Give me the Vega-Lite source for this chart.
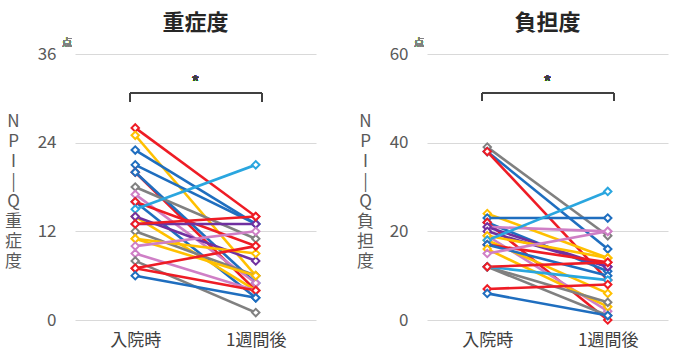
{
  "$schema": "https://vega.github.io/schema/vega-lite/v6.json",
  "background": "white",
  "padding": {"left": 4, "top": 12, "right": 5, "bottom": 5},
  "config": {
    "font": "Noto Sans CJK JP",
    "view": {"stroke": null},
    "concat": {"spacing": 40}
  },
  "datasets": {
    "sev": [
      {"id": "s1", "g": "r", "t": 0, "v": 26}, {"id": "s1", "g": "r", "t": 1, "v": 14},
      {"id": "s2", "g": "y", "t": 0, "v": 25}, {"id": "s2", "g": "y", "t": 1, "v": 6},
      {"id": "s3", "g": "b", "t": 0, "v": 23}, {"id": "s3", "g": "b", "t": 1, "v": 13},
      {"id": "s4", "g": "b", "t": 0, "v": 21}, {"id": "s4", "g": "b", "t": 1, "v": 13},
      {"id": "s5", "g": "r", "t": 0, "v": 20}, {"id": "s5", "g": "r", "t": 1, "v": 4},
      {"id": "s6", "g": "b", "t": 0, "v": 20}, {"id": "s6", "g": "b", "t": 1, "v": 5},
      {"id": "s7", "g": "gr", "t": 0, "v": 18}, {"id": "s7", "g": "gr", "t": 1, "v": 11},
      {"id": "s8", "g": "pk", "t": 0, "v": 17}, {"id": "s8", "g": "pk", "t": 1, "v": 5},
      {"id": "s9", "g": "b", "t": 0, "v": 16}, {"id": "s9", "g": "b", "t": 1, "v": 3},
      {"id": "s23", "g": "r", "t": 0, "v": 16}, {"id": "s23", "g": "r", "t": 1, "v": 10},
      {"id": "s10", "g": "lb", "t": 0, "v": 15}, {"id": "s10", "g": "lb", "t": 1, "v": 21},
      {"id": "s11", "g": "y", "t": 0, "v": 14}, {"id": "s11", "g": "y", "t": 1, "v": 4},
      {"id": "s12", "g": "pu", "t": 0, "v": 14}, {"id": "s12", "g": "pu", "t": 1, "v": 8},
      {"id": "s13", "g": "pu", "t": 0, "v": 13}, {"id": "s13", "g": "pu", "t": 1, "v": 13},
      {"id": "s14", "g": "gr", "t": 0, "v": 12}, {"id": "s14", "g": "gr", "t": 1, "v": 6},
      {"id": "s15", "g": "y", "t": 0, "v": 11}, {"id": "s15", "g": "y", "t": 1, "v": 9},
      {"id": "s22", "g": "y", "t": 0, "v": 11}, {"id": "s22", "g": "y", "t": 1, "v": 6},
      {"id": "s16", "g": "pk", "t": 0, "v": 10}, {"id": "s16", "g": "pk", "t": 1, "v": 12},
      {"id": "s17", "g": "pk", "t": 0, "v": 9}, {"id": "s17", "g": "pk", "t": 1, "v": 4},
      {"id": "s18", "g": "gr", "t": 0, "v": 8}, {"id": "s18", "g": "gr", "t": 1, "v": 1},
      {"id": "s19", "g": "r", "t": 0, "v": 7}, {"id": "s19", "g": "r", "t": 1, "v": 10},
      {"id": "s20", "g": "r", "t": 0, "v": 7}, {"id": "s20", "g": "r", "t": 1, "v": 4},
      {"id": "s24", "g": "r", "t": 0, "v": 13}, {"id": "s24", "g": "r", "t": 1, "v": 14},
      {"id": "s21", "g": "b", "t": 0, "v": 6}, {"id": "s21", "g": "b", "t": 1, "v": 3}
    ],
    "bur": [
      {"id": "b1", "g": "gr", "t": 0, "v": 39}, {"id": "b1", "g": "gr", "t": 1, "v": 19},
      {"id": "b2", "g": "b", "t": 0, "v": 38}, {"id": "b2", "g": "b", "t": 1, "v": 16},
      {"id": "b3", "g": "r", "t": 0, "v": 38}, {"id": "b3", "g": "r", "t": 1, "v": 9},
      {"id": "b4", "g": "y", "t": 0, "v": 24}, {"id": "b4", "g": "y", "t": 1, "v": 14},
      {"id": "b5", "g": "b", "t": 0, "v": 23}, {"id": "b5", "g": "b", "t": 1, "v": 23},
      {"id": "b6", "g": "b", "t": 0, "v": 22}, {"id": "b6", "g": "b", "t": 1, "v": 11},
      {"id": "b9", "g": "r", "t": 0, "v": 22}, {"id": "b9", "g": "r", "t": 1, "v": 0},
      {"id": "b7", "g": "pk", "t": 0, "v": 21}, {"id": "b7", "g": "pk", "t": 1, "v": 20},
      {"id": "b24", "g": "pu", "t": 0, "v": 21}, {"id": "b24", "g": "pu", "t": 1, "v": 12},
      {"id": "b8", "g": "pu", "t": 0, "v": 20}, {"id": "b8", "g": "pu", "t": 1, "v": 12},
      {"id": "b10", "g": "pk", "t": 0, "v": 19}, {"id": "b10", "g": "pk", "t": 1, "v": 2},
      {"id": "b23", "g": "y", "t": 0, "v": 19}, {"id": "b23", "g": "y", "t": 1, "v": 14},
      {"id": "b11", "g": "y", "t": 0, "v": 18}, {"id": "b11", "g": "y", "t": 1, "v": 6},
      {"id": "b12", "g": "lb", "t": 0, "v": 18}, {"id": "b12", "g": "lb", "t": 1, "v": 29},
      {"id": "b13", "g": "r", "t": 0, "v": 17}, {"id": "b13", "g": "r", "t": 1, "v": 13},
      {"id": "b16", "g": "b", "t": 0, "v": 17}, {"id": "b16", "g": "b", "t": 1, "v": 10},
      {"id": "b14", "g": "y", "t": 0, "v": 16}, {"id": "b14", "g": "y", "t": 1, "v": 3},
      {"id": "b15", "g": "pk", "t": 0, "v": 15}, {"id": "b15", "g": "pk", "t": 1, "v": 20},
      {"id": "b17", "g": "gr", "t": 0, "v": 12}, {"id": "b17", "g": "gr", "t": 1, "v": 1},
      {"id": "b18", "g": "gr", "t": 0, "v": 12}, {"id": "b18", "g": "gr", "t": 1, "v": 4},
      {"id": "b19", "g": "lb", "t": 0, "v": 12}, {"id": "b19", "g": "lb", "t": 1, "v": 9},
      {"id": "b20", "g": "r", "t": 0, "v": 12}, {"id": "b20", "g": "r", "t": 1, "v": 13},
      {"id": "b21", "g": "r", "t": 0, "v": 7}, {"id": "b21", "g": "r", "t": 1, "v": 8},
      {"id": "b22", "g": "b", "t": 0, "v": 6}, {"id": "b22", "g": "b", "t": 1, "v": 1}
    ]
  },
  "hconcat": [
    {
      "width": 241,
      "height": 266,
      "title": {"text": "重症度", "fontSize": 22, "fontWeight": "bold", "color": "#262626", "offset": 3, "frame": "group", "anchor": "middle"},
      "data": {"name": "sev"},
      "encoding": {
        "x": {"field": "t", "type": "quantitative", "scale": {"domain": [-0.5, 1.5], "nice": false},
          "axis": {"values": [0, 1], "labelExpr": "datum.value == 0 ? '入院時' : '1週間後'", "title": null, "grid": false, "domain": false, "ticks": false, "labelFontSize": 17, "labelColor": "#404040", "labelPadding": 12}},
        "y": {"field": "v", "type": "quantitative", "scale": {"domain": [0, 36], "nice": false},
          "axis": {"values": [0, 12, 24, 36], "title": ["N", "P", "I", "|", "Q", "重", "症", "度"], "titleAngle": 0, "titleFontSize": 17, "titleFontWeight": "normal", "titleColor": "#595959", "titleLineHeight": 20, "titleX": -62, "titleY": 67, "titleAlign": "center", "titleBaseline": "middle", "domain": false, "ticks": false, "labelFontSize": 17, "labelColor": "#595959", "labelPadding": 19, "gridColor": "#d9d9d9", "gridWidth": 1}}
      },
      "layer": [
        {"mark": {"type": "line", "strokeWidth": 2.6}, "encoding": {"detail": {"field": "id"}, "color": {"field": "g", "type": "nominal", "legend": null, "scale": {"domain": ["r", "y", "b", "lb", "gr", "pu", "pk"], "range": ["#EE1C25", "#FFC000", "#1F6EBF", "#2AA6DF", "#808080", "#7030A0", "#CF7FC6"]}}}},
        {"mark": {"type": "point", "shape": "diamond", "filled": false, "fill": "white", "fillOpacity": 1, "strokeWidth": 2, "size": 55, "opacity": 1}, "encoding": {"color": {"field": "g", "type": "nominal", "legend": null, "scale": {"domain": ["r", "y", "b", "lb", "gr", "pu", "pk"], "range": ["#EE1C25", "#FFC000", "#1F6EBF", "#2AA6DF", "#808080", "#7030A0", "#CF7FC6"]}}}},
        {"mark": {"type": "rule", "color": "#404040", "strokeWidth": 1.2}, "encoding": {"x": {"datum": -0.04}, "x2": {"datum": 1.05}, "y": {"datum": 30.7}}},
        {"mark": {"type": "rule", "color": "#404040", "strokeWidth": 1.2}, "encoding": {"x": {"datum": -0.04}, "y": {"datum": 30.7}, "y2": {"datum": 29.6}}},
        {"mark": {"type": "rule", "color": "#404040", "strokeWidth": 1.2}, "encoding": {"x": {"datum": 1.05}, "y": {"datum": 30.7}, "y2": {"datum": 29.6}}},
        {"mark": {"type": "text", "text": "*", "fontSize": 18, "color": "#404040", "baseline": "middle"}, "encoding": {"x": {"datum": 0.5}, "y": {"datum": 31.9}}},
        {"mark": {"type": "text", "text": "点", "fontSize": 10, "color": "#808080", "dx": -8, "dy": -11, "align": "center"}, "encoding": {"x": {"datum": -0.5}, "y": {"datum": 36}}}
      ]
    },
    {
      "width": 241,
      "height": 266,
      "title": {"text": "負担度", "fontSize": 22, "fontWeight": "bold", "color": "#262626", "offset": 3, "frame": "group", "anchor": "middle"},
      "data": {"name": "bur"},
      "encoding": {
        "x": {"field": "t", "type": "quantitative", "scale": {"domain": [-0.5, 1.5], "nice": false},
          "axis": {"values": [0, 1], "labelExpr": "datum.value == 0 ? '入院時' : '1週間後'", "title": null, "grid": false, "domain": false, "ticks": false, "labelFontSize": 17, "labelColor": "#404040", "labelPadding": 12}},
        "y": {"field": "v", "type": "quantitative", "scale": {"domain": [0, 60], "nice": false},
          "axis": {"values": [0, 20, 40, 60], "title": ["N", "P", "I", "|", "Q", "負", "担", "度"], "titleAngle": 0, "titleFontSize": 17, "titleFontWeight": "normal", "titleColor": "#595959", "titleLineHeight": 20, "titleX": -62, "titleY": 67, "titleAlign": "center", "titleBaseline": "middle", "domain": false, "ticks": false, "labelFontSize": 17, "labelColor": "#595959", "labelPadding": 19, "gridColor": "#d9d9d9", "gridWidth": 1}}
      },
      "layer": [
        {"mark": {"type": "line", "strokeWidth": 2.6}, "encoding": {"detail": {"field": "id"}, "color": {"field": "g", "type": "nominal", "legend": null, "scale": {"domain": ["r", "y", "b", "lb", "gr", "pu", "pk"], "range": ["#EE1C25", "#FFC000", "#1F6EBF", "#2AA6DF", "#808080", "#7030A0", "#CF7FC6"]}}}},
        {"mark": {"type": "point", "shape": "diamond", "filled": false, "fill": "white", "fillOpacity": 1, "strokeWidth": 2, "size": 55, "opacity": 1}, "encoding": {"color": {"field": "g", "type": "nominal", "legend": null, "scale": {"domain": ["r", "y", "b", "lb", "gr", "pu", "pk"], "range": ["#EE1C25", "#FFC000", "#1F6EBF", "#2AA6DF", "#808080", "#7030A0", "#CF7FC6"]}}}},
        {"mark": {"type": "rule", "color": "#404040", "strokeWidth": 1.2}, "encoding": {"x": {"datum": -0.04}, "x2": {"datum": 1.05}, "y": {"datum": 51.2}}},
        {"mark": {"type": "rule", "color": "#404040", "strokeWidth": 1.2}, "encoding": {"x": {"datum": -0.04}, "y": {"datum": 51.2}, "y2": {"datum": 49.4}}},
        {"mark": {"type": "rule", "color": "#404040", "strokeWidth": 1.2}, "encoding": {"x": {"datum": 1.05}, "y": {"datum": 51.2}, "y2": {"datum": 49.4}}},
        {"mark": {"type": "text", "text": "*", "fontSize": 18, "color": "#404040", "baseline": "middle"}, "encoding": {"x": {"datum": 0.5}, "y": {"datum": 53.2}}},
        {"mark": {"type": "text", "text": "点", "fontSize": 10, "color": "#808080", "dx": -8, "dy": -11, "align": "center"}, "encoding": {"x": {"datum": -0.5}, "y": {"datum": 60}}}
      ]
    }
  ]
}
